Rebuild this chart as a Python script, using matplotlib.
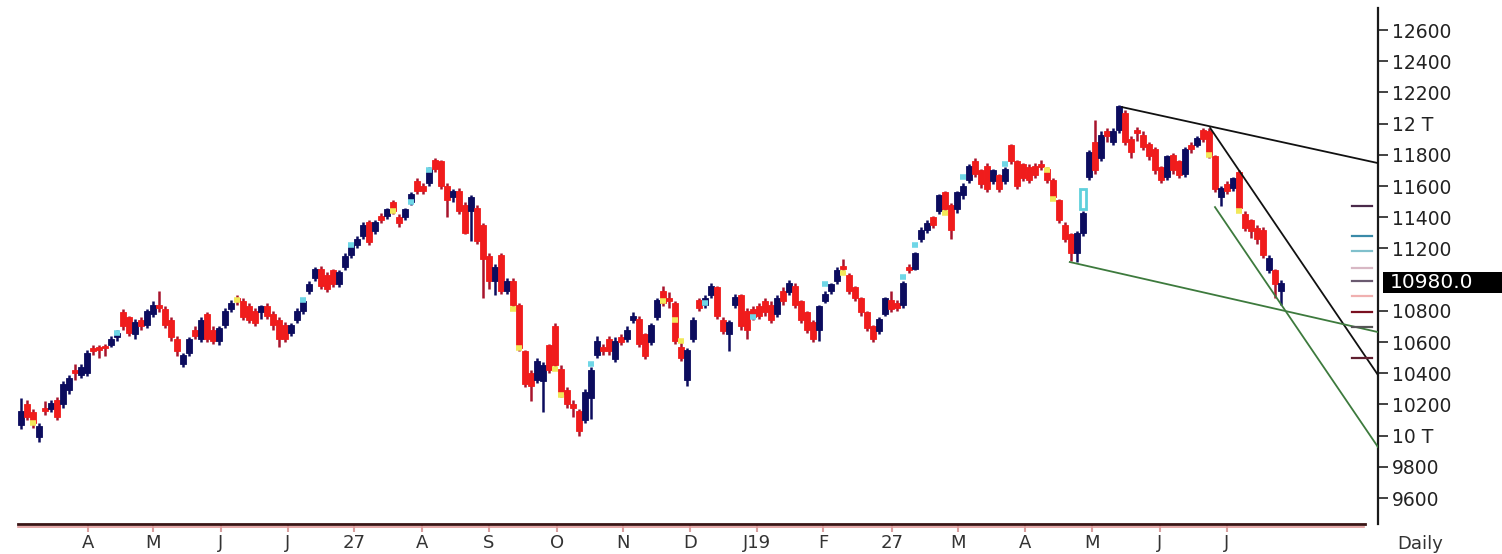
import numpy as np
from matplotlib import pyplot as plt
from matplotlib import transforms

# Daily candles, values
opens = [
    10070, 10200, 10150, 9990, 10180, 10170, 10230, 10200, 10290, 10420,
    10390, 10400, 10560, 10560, 10570, 10580, 10630, 10790, 10760, 10650,
    10740, 10710, 10780, 10840, 10810, 10740, 10620, 10460, 10530, 10680,
    10620, 10780, 10680, 10610, 10710, 10810, 10880, 10860, 10830, 10800,
    10790, 10830, 10780, 10740, 10710, 10660, 10740, 10800, 10930, 11010,
    11070, 11030, 11060, 10970, 11080, 11160, 11220, 11280, 11370, 11310,
    11410, 11410, 11500, 11400, 11400, 11500, 11630, 11600, 11620, 11770,
    11760, 11600, 11530, 11570, 11480, 11440, 11460, 11350, 11150, 10990,
    11160, 10930, 10990, 10840, 10540, 10400, 10360, 10350, 10580, 10700,
    10430, 10290, 10200, 10160, 10100, 10240, 10520, 10570, 10620, 10490,
    10630, 10620, 10740, 10750, 10650, 10600, 10760, 10930, 10880, 10850,
    10570, 10360, 10620, 10870, 10840, 10900, 10950, 10740, 10650, 10840,
    10900, 10800, 10810, 10830, 10860, 10840, 10780, 10930, 10920, 10960,
    10860, 10790, 10730, 10680, 10860, 10930, 10990, 11090, 11030, 10950,
    10880, 10790, 10700, 10670, 10780, 10870, 10850, 10840, 11080, 11070,
    11260, 11320, 11400, 11440, 11560, 11480, 11450, 11540, 11640, 11760,
    11700, 11730, 11630, 11670, 11630, 11860, 11760, 11740, 11720, 11730,
    11740, 11710, 11640, 11510, 11350, 11290, 11170, 11300, 11660, 11880,
    11780, 11950, 11880, 11960, 12070, 11900, 11960, 11930, 11870, 11840,
    11720, 11660, 11800, 11760, 11680, 11860, 11860, 11960, 11950, 11790,
    11530, 11610, 11590, 11690, 11420, 11380, 11330, 11320, 11060, 11060, 10930]

closes = [
    10160, 10120, 10080, 10060, 10160, 10210, 10120, 10330, 10370, 10400,
    10440, 10530, 10540, 10550, 10560, 10620, 10660, 10700, 10660, 10730,
    10700, 10800, 10840, 10820, 10710, 10630, 10540, 10520, 10620, 10640,
    10740, 10620, 10610, 10690, 10800, 10850, 10860, 10760, 10740, 10720,
    10830, 10770, 10710, 10620, 10620, 10710, 10800, 10860, 10970, 11070,
    10960, 10940, 10970, 11050, 11150, 11220, 11260, 11350, 11240, 11370,
    11380, 11450, 11440, 11360, 11450, 11550, 11570, 11570, 11710, 11710,
    11600, 11510, 11570, 11440, 11300, 11530, 11250, 11130, 10990, 11080,
    10930, 10990, 10840, 10560, 10330, 10320, 10480, 10450, 10420, 10450,
    10270, 10200, 10180, 10030, 10280, 10420, 10610, 10540, 10540, 10610,
    10600, 10680, 10770, 10590, 10510, 10710, 10870, 10850, 10860, 10610,
    10500, 10550, 10740, 10820, 10880, 10960, 10770, 10670, 10730, 10890,
    10700, 10680, 10760, 10770, 10790, 10740, 10880, 10860, 10980, 10840,
    10740, 10680, 10620, 10830, 10910, 10970, 11060, 11070, 10930, 10880,
    10790, 10690, 10620, 10750, 10880, 10810, 10820, 10980, 11060, 11170,
    11320, 11360, 11350, 11540, 11450, 11320, 11560, 11600, 11730, 11680,
    11610, 11580, 11700, 11580, 11710, 11760, 11600, 11650, 11640, 11670,
    11720, 11640, 11530, 11380, 11260, 11170, 11300, 11430, 11820, 11700,
    11930, 11920, 11950, 12110, 11880, 11820, 11940, 11850, 11790, 11700,
    11640, 11790, 11700, 11670, 11840, 11840, 11910, 11900, 11800, 11580,
    11590, 11570, 11650, 11460, 11330, 11310, 11260, 11160, 11140, 10970, 10980]

highs = [
    10240, 10230, 10170, 10080, 10220, 10230, 10250, 10350, 10390, 10460,
    10460, 10550, 10580, 10580, 10590, 10640, 10680, 10810, 10770, 10750,
    10760, 10810, 10860, 10930, 10830, 10760, 10640, 10530, 10630, 10700,
    10760, 10790, 10700, 10700, 10820, 10870, 10900, 10880, 10850, 10820,
    10840, 10850, 10800, 10760, 10730, 10720, 10820, 10870, 10990, 11080,
    11090, 11050, 11070, 11060, 11170, 11230, 11280, 11370, 11380, 11380,
    11430, 11460, 11510, 11420, 11460, 11560, 11650, 11620, 11720, 11780,
    11770, 11620, 11580, 11590, 11500, 11540, 11480, 11360, 11170, 11100,
    11170, 11010, 11010, 10850, 10550, 10420, 10500, 10470, 10590, 10720,
    10450, 10310, 10230, 10170, 10300, 10440, 10640, 10590, 10640, 10630,
    10650, 10700, 10790, 10770, 10660, 10720, 10880, 10960, 10920, 10860,
    10620, 10560, 10760, 10880, 10900, 10980, 10960, 10760, 10740, 10910,
    10910, 10820, 10830, 10850, 10880, 10860, 10900, 10950, 11000, 10980,
    10870, 10800, 10740, 10840, 10930, 10980, 11080, 11130, 11040, 10960,
    10890, 10800, 10710, 10760, 10890, 10930, 10870, 10990, 11100, 11180,
    11340, 11380, 11410, 11550, 11570, 11490, 11570, 11620, 11740, 11780,
    11710, 11750, 11710, 11680, 11720, 11870, 11770, 11750, 11740, 11750,
    11770, 11720, 11650, 11520, 11370, 11300, 11310, 11440, 11830, 12020,
    11950, 11970, 11970, 12120, 12090, 11920, 11980, 11950, 11880, 11850,
    11730, 11800, 11810, 11770, 11850, 11880, 11920, 11970, 11970, 11800,
    11600, 11630, 11660, 11700, 11440, 11390, 11350, 11340, 11160, 11070, 11000]

lows = [
    10040, 10100, 10050, 9960, 10130, 10150, 10100, 10180, 10270, 10360,
    10370, 10380, 10520, 10500, 10510, 10570, 10610, 10680, 10640, 10620,
    10680, 10690, 10760, 10790, 10690, 10610, 10510, 10440, 10510, 10620,
    10600, 10600, 10590, 10580, 10690, 10790, 10840, 10740, 10720, 10700,
    10750, 10750, 10680, 10570, 10600, 10640, 10720, 10780, 10910, 10990,
    10940, 10920, 10950, 10950, 11060, 11140, 11200, 11260, 11220, 11290,
    11360, 11390, 11420, 11340, 11380, 11480, 11550, 11550, 11600, 11690,
    11580, 11400, 11500, 11420, 11290, 11250, 11230, 10880, 10940, 10900,
    10910, 10910, 10820, 10540, 10310, 10220, 10340, 10150, 10400, 10430,
    10250, 10180, 10120, 10000, 10080, 10110, 10500, 10520, 10520, 10470,
    10580, 10600, 10720, 10570, 10490, 10580, 10740, 10830, 10820, 10590,
    10480, 10320, 10600, 10800, 10820, 10880, 10750, 10650, 10540, 10820,
    10680, 10620, 10740, 10750, 10770, 10720, 10760, 10840, 10900, 10820,
    10720, 10660, 10600, 10610, 10850, 10910, 10970, 11040, 10910, 10860,
    10770, 10670, 10600, 10650, 10770, 10790, 10800, 10820, 11040, 11060,
    11240, 11300, 11330, 11420, 11430, 11260, 11430, 11520, 11620, 11660,
    11590, 11560, 11610, 11560, 11610, 11740, 11580, 11630, 11620, 11650,
    11700, 11620, 11510, 11360, 11240, 11120, 11110, 11280, 11640, 11680,
    11760, 11880, 11860, 11940, 11860, 11780, 11890, 11830, 11770, 11680,
    11620, 11640, 11680, 11650, 11660, 11810, 11850, 11880, 11780, 11560,
    11470, 11550, 11570, 11440, 11310, 11270, 11230, 11140, 11040, 10880, 10840]

# small yellow / cyan markers (bar index, price)
yellow_idx = [2, 36, 62, 82, 83, 89, 90, 107, 109, 110, 137, 154, 171, 172, 198, 203]
yellow_val = [10080, 10870, 11440, 10810, 10560, 10430, 10260, 10860, 10740, 10610,
              11040, 11430, 11700, 11520, 11800, 11440]
cyan_idx = [16, 47, 55, 65, 68, 95, 114, 122, 134, 147, 149, 157, 164]
cyan_val = [10660, 10870, 11220, 11500, 11700, 10460, 10850, 10760, 10970, 11020,
            11220, 11660, 11740]

# hollow gap box
gap_idx = [177]
gap_lo = [11450]
gap_hi = [11580]

# trendlines (start bar, start price, end price), all run to the right axis
tl_x0 = [183.5, 198.2, 174.8, 199.0]
tl_y0 = [12106, 11972, 11113, 11465]
tl_y1 = [11747, 10389, 10664, 9927]
tl_col = ["#111111", "#111111", "#3d7a3d", "#3d7a3d"]

# short level marks next to the price axis
lvl_val = [11472, 11280, 11183, 11074, 10991, 10895, 10792, 10696, 10497]
lvl_col = ["#4a2a4a", "#3a8aa8", "#80c0cc", "#d8b8c4", "#6a5a70", "#f0b0b0",
           "#7a1020", "#555555", "#602030"]

last_price = 10980.0

xtick_pos = [11.2, 22, 33.3, 44.5, 55.5, 66.8, 78, 89.3, 100.3, 111.5, 122.7,
             133.7, 145.2, 156.2, 167.3, 178.5, 189.8, 201]
xtick_lab = ["A", "M", "J", "J", "27", "A", "S", "O", "N", "D", "J19", "F",
             "27", "M", "A", "M", "J", "J"]

ytick_val = [9600, 9800, 10000, 10200, 10400, 10600, 10800, 11200, 11400,
             11600, 11800, 12000, 12200, 12400, 12600]
ytick_lab = ["9600", "9800", "10 T", "10200", "10400", "10600", "10800", "11200",
             "11400", "11600", "11800", "12 T", "12200", "12400", "12600"]

NAVY = "#0c0c5e"
RED = "#f01c1c"
FS = 13.5

fig = plt.figure(figsize=(15.02, 5.54), dpi=100)
ax = fig.add_axes([18 / 1502, 30 / 554, 1360 / 1502, 516 / 554])

o = np.array(opens, float)
h = np.array(highs, float)
l = np.array(lows, float)
c = np.array(closes, float)
x = np.arange(len(c))
up = c >= o
body_col = np.where(up, NAVY, RED)
wick_col = np.where(up, NAVY, "#a8142c")

ax.vlines(x, l, h, colors=wick_col, lw=1.8, zorder=2)
ax.bar(x, np.maximum(np.abs(c - o), 16), bottom=np.minimum(o, c), width=0.92,
       color=body_col, edgecolor=body_col, linewidth=0.6, zorder=3)

yi = np.array(yellow_idx)
ax.hlines(yellow_val, yi - 0.55, yi + 0.55, colors="#f2e85a", lw=4, zorder=4)
ci = np.array(cyan_idx)
ax.hlines(cyan_val, ci - 0.55, ci + 0.55, colors="#6fd6e6", lw=4, zorder=4)

for gi, lo, hi in zip(gap_idx, gap_lo, gap_hi):
    ax.add_patch(plt.Rectangle((gi - 0.45, lo), 0.9, hi - lo, facecolor="white",
                               edgecolor="#5fd0dc", lw=2, zorder=4))

xmax = 226.17
for x0, y0, y1, col in zip(tl_x0, tl_y0, tl_y1, tl_col):
    ax.plot([x0, xmax], [y0, y1], color=col, lw=1.3, zorder=5)

for v, col in zip(lvl_val, lvl_col):
    ax.plot([221.8, 225.2], [v, v], color=col, lw=1.6, zorder=5)

ax.set_xlim(-0.5, xmax)
ax.set_ylim(9434, 12741)

# axes styling
ax.spines["left"].set_visible(False)
ax.spines["top"].set_visible(False)
ax.spines["right"].set_color("#1a1a1a")
ax.spines["right"].set_linewidth(1.6)
ax.spines["bottom"].set_color("#3a1515")
ax.spines["bottom"].set_linewidth(2)
ax.spines["bottom"].set_bounds(-0.5, 224)
ax.plot([0, 0.99], [-0.005, -0.005], transform=ax.transAxes, clip_on=False,
        color="#e09a9a", lw=1.2)

ax.yaxis.tick_right()
ax.set_yticks(ytick_val)
ax.set_yticklabels(ytick_lab)
ax.tick_params(axis="y", direction="out", length=7, width=1.2, color="#222222",
               pad=3, labelsize=FS, labelcolor="#222222")
ax.set_xticks(xtick_pos)
ax.set_xticklabels(xtick_lab)
ax.tick_params(axis="x", direction="out", length=6, width=1.5, color="#d8a0a0",
               pad=1, labelsize=13, labelcolor="#333333")

# last price box, running off the right edge like the reference
trans = transforms.blended_transform_factory(fig.transFigure, ax.transData)
ax.add_patch(plt.Rectangle((1383 / 1502, last_price - 68), 1.0, 136,
                           transform=trans, facecolor="black", edgecolor="none",
                           clip_on=False, zorder=6))
ax.text(1390 / 1502, last_price, "%.1f" % last_price, transform=trans, ha="left",
        va="center", fontsize=14.5, color="white", clip_on=False, zorder=7)

fig.text(1420 / 1502, 1 - 544 / 554, "Daily", ha="center", va="center",
         fontsize=13, color="#333333")

fig.savefig("out.png", dpi=100)
